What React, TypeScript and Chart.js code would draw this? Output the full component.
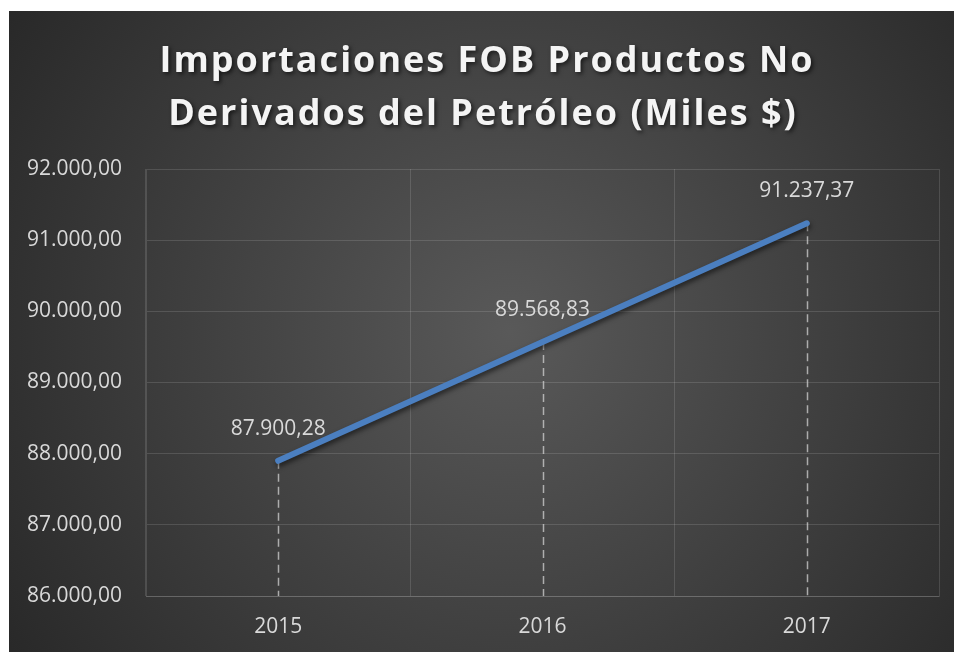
import React, { useEffect, useRef } from 'react';
import { Chart, registerables } from 'chart.js';

Chart.register(...registerables);

// ---- data ----
const categories: string[] = ['2015', '2016', '2017'];
const values: number[] = [87900.28, 89568.83, 91237.37];
const yMin = 86000;
const yMax = 92000;
const yStep = 1000;
const titleLines: string[] = ['Importaciones FOB Productos No', 'Derivados del Petróleo (Miles $)'];

function fmt(v: number): string {
  const fixed = Math.abs(v).toFixed(2);
  const [intPart, dec] = fixed.split('.');
  const withDots = intPart.replace(/\B(?=(\d{3})+(?!\d))/g, '.');
  return (v < 0 ? '-' : '') + withDots + ',' + dec;
}

const W = 945;
const H = 641;
const FONT = '"Open Sans", "Noto Sans", sans-serif';
const TEXT = '#d9d9d9';
const GRID = 'rgba(255,255,255,0.13)';

const bgPlugin = {
  id: 'bgPlugin',
  beforeDraw(chart: any) {
    const { ctx, width, height } = chart;
    ctx.save();
    const cx = width * 0.53;
    const cy = height * 0.5;
    const g = ctx.createRadialGradient(cx, cy, 0, cx, cy, Math.hypot(width, height) * 0.55);
    g.addColorStop(0, '#595959');
    g.addColorStop(1, '#262626');
    ctx.fillStyle = g;
    ctx.fillRect(0, 0, width, height);
    ctx.restore();
  },
};

const dropLinesPlugin = {
  id: 'dropLines',
  beforeDatasetsDraw(chart: any) {
    const { ctx, chartArea } = chart;
    const meta = chart.getDatasetMeta(0);
    ctx.save();
    ctx.strokeStyle = 'rgba(210,210,210,0.75)';
    ctx.lineWidth = 1.5;
    ctx.setLineDash([8, 5]);
    meta.data.forEach((pt: any) => {
      ctx.beginPath();
      ctx.moveTo(Math.round(pt.x) + 0.5, pt.y);
      ctx.lineTo(Math.round(pt.x) + 0.5, chartArea.bottom);
      ctx.stroke();
    });
    ctx.restore();
  },
};

const lineShadowPlugin = {
  id: 'lineShadow',
  beforeDatasetDraw(chart: any) {
    const ctx = chart.ctx;
    ctx.save();
    ctx.shadowColor = 'rgba(0,0,0,0.55)';
    ctx.shadowBlur = 5;
    ctx.shadowOffsetX = 1;
    ctx.shadowOffsetY = 3;
  },
  afterDatasetDraw(chart: any) {
    chart.ctx.restore();
  },
};

const dataLabelsPlugin = {
  id: 'dataLabels',
  afterDatasetsDraw(chart: any) {
    const { ctx } = chart;
    const meta = chart.getDatasetMeta(0);
    const data = chart.data.datasets[0].data as number[];
    ctx.save();
    ctx.font = `21px ${FONT}`;
    ctx.fillStyle = TEXT;
    ctx.textAlign = 'center';
    ctx.textBaseline = 'middle';
    meta.data.forEach((pt: any, i: number) => {
      ctx.fillText(fmt(data[i]), pt.x, pt.y - 32);
    });
    ctx.restore();
  },
};

const titlePlugin = {
  id: 'customTitle',
  afterDraw(chart: any) {
    const { ctx } = chart;
    ctx.save();
    ctx.font = `bold 36px ${FONT}`;
    (ctx as any).letterSpacing = '2px';
    ctx.fillStyle = '#f4f4f4';
    ctx.textAlign = 'center';
    ctx.textBaseline = 'alphabetic';
    ctx.shadowColor = 'rgba(0,0,0,0.6)';
    ctx.shadowBlur = 4;
    ctx.shadowOffsetX = 2;
    ctx.shadowOffsetY = 2;
    ctx.fillText(titleLines[0], 478, 61);
    ctx.fillText(titleLines[1], 474, 114);
    ctx.restore();
  },
};

export default function App() {
  const ref = useRef<HTMLCanvasElement | null>(null);

  useEffect(() => {
    if (!ref.current) return;
    const chart = new Chart(ref.current, {
      type: 'line',
      data: {
        labels: categories,
        datasets: [
          {
            label: 'Importaciones FOB',
            data: values,
            borderColor: '#4b7fc0',
            backgroundColor: '#4b7fc0',
            borderWidth: 6,
            borderCapStyle: 'round',
            borderJoinStyle: 'round',
            pointRadius: 0,
            pointHoverRadius: 0,
            tension: 0,
            fill: false,
          },
        ],
      },
      options: {
        responsive: false,
        animation: false,
        events: [],
        layout: { padding: { top: 158, right: 15, bottom: 0, left: 7 } },
        plugins: {
          legend: { display: false },
          title: { display: false },
          tooltip: { enabled: false },
        },
        scales: {
          x: {
            type: 'category',
            offset: true,
            grid: { offset: true, color: GRID, lineWidth: 1, drawTicks: false },
            border: { display: true, color: GRID, width: 1 },
            ticks: { color: TEXT, font: { family: FONT, size: 21 }, padding: 18 },
            afterFit(scale: any) {
              scale.height = 56;
            },
          },
          y: {
            min: yMin,
            max: yMax,
            grid: { color: GRID, lineWidth: 1, drawTicks: false },
            border: { display: true, color: GRID, width: 1 },
            ticks: {
              stepSize: yStep,
              color: TEXT,
              font: { family: FONT, size: 21 },
              padding: 24,
              callback: (v: any) => fmt(Number(v)),
            },
            afterFit(scale: any) {
              scale.width = 130;
            },
          },
        },
      },
      plugins: [bgPlugin, dropLinesPlugin, lineShadowPlugin, dataLabelsPlugin, titlePlugin],
    } as any);
    return () => chart.destroy();
  }, []);

  return (
    <canvas
      ref={ref}
      width={W}
      height={H}
      style={{ display: 'block', position: 'absolute', left: 9, top: 11, width: W, height: H }}
    />
  );
}
